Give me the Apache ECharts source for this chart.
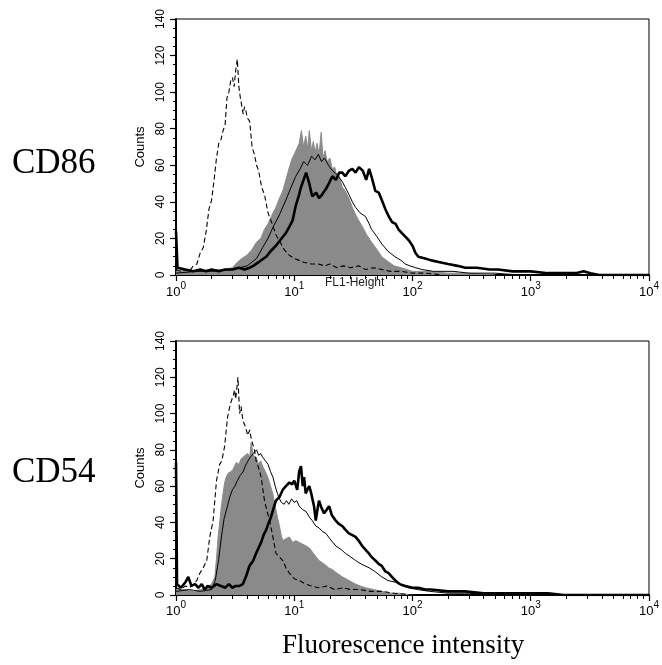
<!DOCTYPE html>
<html><head><meta charset="utf-8">
<script src="https://cdn.jsdelivr.net/npm/echarts@6/dist/echarts.min.js"></script>
<style>html,body{margin:0;padding:0;background:#fff}#c{width:662px;height:665px}</style>
</head><body><div id="c"></div>
<script>
// ---- labels & ticks ----
const panelNames = ['CD86', 'CD54'];
const xMajorTicks = [1, 10, 100, 1000, 10000];
const xMinorTicks = [2,3,4,5,6,7,8,9,20,30,40,50,60,70,80,90,200,300,400,500,600,700,800,900,2000,3000,4000,5000,6000,7000,8000,9000];
const yTicks = [0, 20, 40, 60, 80, 100, 120, 140];
const yTitle = 'Counts';
const topAxisTitle = 'FL1-Height';
const xTitle = 'Fluorescence intensity';

// ---- CD86 panel: [intensity, counts] ----
const cd86Isotype = [[1,3],[1.1,2],[1.2,3],[1.3,2],[1.4,5],[1.5,6],[1.6,12],[1.7,15],[1.8,24],[1.9,36],[2.0,41],[2.1,52],[2.2,64],[2.3,72],[2.4,74],[2.5,79],[2.6,82],[2.7,97],[2.8,100],[2.9,106],[3.0,108],[3.1,103],[3.2,112],[3.3,118],[3.4,103],[3.5,97],[3.6,96],[3.7,88],[3.8,92],[3.9,90],[4.0,86],[4.2,84],[4.4,70],[4.6,66],[4.8,60],[5.0,57],[5.3,48],[5.6,44],[6.0,34],[6.5,28],[7.0,22],[7.6,18],[8.2,14],[9.0,11],[10,9],[11,8],[12,7],[14,6],[16,6],[18,5],[20,6],[23,4],[26,5],[30,4],[35,5],[40,3],[47,4],[55,3],[65,2],[80,2],[100,1],[130,1],[180,0]];
const cd86Filled = [[1,2],[1.2,3],[1.5,2],[2,3],[2.5,3],[3,4],[3.3,7],[3.6,9],[4.0,11],[4.4,14],[4.8,18],[5.2,20],[5.6,25],[6.0,28],[6.5,33],[7.0,37],[7.5,42],[8.0,46],[8.5,52],[9.0,58],[9.5,63],[10,66],[10.5,69],[11,72],[11.5,79],[12,70],[12.5,76],[13,69],[13.4,79],[14,68],[14.5,73],[15,67],[15.6,72],[16.2,66],[16.9,78],[17.5,64],[18.2,68],[19,62],[20,64],[21,58],[22,59],[23,53],[24,54],[25.5,48],[27,46],[29,42],[31,37],[33,33],[35,30],[38,26],[41,22],[45,18],[50,14],[55,10],[60,8],[70,5],[80,4],[100,2],[130,2],[200,1],[300,1],[500,0]];
const cd86Thin = [[1,1],[1.5,2],[2,2],[3,3],[4,5],[4.8,9],[5.4,15],[6,20],[6.6,26],[7.5,33],[8.5,41],[9.4,48],[10.3,54],[11.2,58],[12,62],[13,60],[14,65],[15,63],[16,66],[17,62],[18,64],[19.5,60],[21,57],[23,55],[25.5,51],[27,48],[29,44],[31,40],[33,37],[36,34],[40,32],[43,28],[45,25],[50,21],[55,17],[62,13],[71,10],[80,8],[87,6],[95,5],[106,4],[120,3],[150,2],[220,2],[300,1],[500,1],[800,0]];
const cd86Thick = [[1,24],[1.03,4],[1.2,3],[1.4,2],[1.6,3],[1.8,2],[2,3],[2.3,2],[2.6,3],[3,3],[3.4,4],[3.8,3],[4.2,4],[4.5,5],[5,7],[5.5,9],[5.8,10],[6.3,13],[7,16],[7.6,19],[8.5,23],[9.2,27],[9.7,30],[10.3,38],[11,44],[11.4,48],[12,52],[12.6,56],[13.4,50],[14.2,43],[15.3,45],[16.2,42],[17.2,44],[18.5,47],[19.6,50],[21,54],[22.5,52],[24,56],[25.5,56],[27,54],[29,57],[31,58],[33,56],[35.2,59],[38,57],[40.6,52],[43,58],[45.4,53],[48.5,46],[51.9,45],[55,41],[59,36],[63,32],[67,29],[72,28],[76,25],[81,23],[87,21],[93,19],[100,16],[106,12],[112,10],[128,9],[144,8],[170,7],[200,6],[240,5],[280,4],[350,4],[450,3],[530,3],[700,2],[1000,2],[1400,1],[1900,1],[2400,1],[2800,2],[3200,1],[3800,0],[10000,0]];

// ---- CD54 panel ----
const cd54Isotype = [[1,4],[1.1,3],[1.2,5],[1.3,4],[1.4,6],[1.5,8],[1.59,12],[1.7,15],[1.82,19],[1.93,32],[2.06,41],[2.2,63],[2.34,72],[2.44,74],[2.58,82],[2.65,90],[2.73,98],[2.85,104],[2.94,107],[3.05,110],[3.13,113],[3.2,108],[3.34,120],[3.45,100],[3.55,104],[3.68,96],[3.8,94],[3.93,91],[4.05,88],[4.2,91],[4.33,86],[4.46,85],[4.6,80],[4.76,74],[5.0,70],[5.25,65],[5.6,52],[5.9,46],[6.2,41],[6.6,32],[7.0,23],[7.5,21],[8.0,19],[8.5,15],[9.1,12],[10,9],[11,8],[12.5,6],[14,5],[16,4],[19,5],[22,3],[26,4],[30,3],[36,3],[44,2],[55,2],[70,1],[100,0]];
const cd54Filled = [[1,3],[1.2,3],[1.4,2],[1.6,3],[1.8,4],[2.0,6],[2.13,10],[2.2,20],[2.27,32],[2.35,41],[2.42,49],[2.5,56],[2.58,62],[2.66,65],[2.75,67],[2.9,68],[3.03,69],[3.13,71],[3.23,73],[3.4,72],[3.55,75],[3.68,74],[3.85,77],[4.05,78],[4.2,76],[4.32,84],[4.5,77],[4.76,76],[5.0,72],[5.2,74],[5.4,71],[5.7,68],[5.97,65],[6.3,60],[6.58,56],[6.8,51],[7.0,47],[7.25,42],[7.5,38],[7.75,33],[8.0,30],[8.5,31],[9.1,32],[9.7,29],[10.3,30],[11,29],[11.8,28],[12.6,27],[13.4,26],[14.5,23],[15.3,21],[16.2,19],[18,17],[19.5,15],[21,14],[23,12],[25.5,10],[29,8],[33,6],[36,5],[40,4],[47,3],[55,2],[65,1],[76,1],[100,0]];
const cd54Thin = [[1,2],[1.3,3],[1.6,2],[2.0,3],[2.15,8],[2.3,20],[2.42,32],[2.55,42],[2.7,48],[2.85,54],[3.0,58],[3.15,60],[3.3,63],[3.5,66],[3.7,68],[3.85,71],[4.0,72],[4.15,75],[4.3,76],[4.5,78],[4.8,80],[5.0,77],[5.2,78],[5.4,76],[5.7,74],[6.0,72],[6.3,68],[6.6,65],[6.9,60],[7.2,56],[7.5,53],[7.8,51],[8.2,50],[8.6,52],[9.0,50],[9.5,53],[10,51],[10.5,52],[11,49],[11.8,47],[12.6,46],[13.4,43],[14.2,41],[15.2,38],[16.2,37],[17.3,35],[18.5,34],[20,31],[22.5,27],[25,25],[27,23],[30,21],[33,19],[37,17],[43,15],[48,13],[55,10],[62,8],[72,7],[82,5],[92,4],[110,3],[140,2],[200,1],[300,1],[450,0]];
const cd54Thick = [[1,73],[1.02,6],[1.1,4],[1.2,7],[1.27,10],[1.35,5],[1.45,6],[1.55,4],[1.65,6],[1.75,3],[1.85,5],[2.0,4],[2.2,6],[2.4,5],[2.6,4],[2.8,6],[3.0,4],[3.2,5],[3.45,5],[3.68,6],[3.9,10],[4.18,16],[4.5,19],[4.76,23],[5.0,26],[5.25,29],[5.5,33],[5.8,36],[6.1,40],[6.36,43],[6.7,48],[7.0,52],[7.5,54],[8.0,58],[8.5,60],[9.1,62],[9.6,61],[10,63],[10.6,58],[11.0,68],[11.4,71],[11.8,60],[12.1,65],[12.5,56],[12.9,58],[13.4,60],[13.8,57],[14.2,56],[14.7,49],[15.2,41],[15.7,47],[16.2,52],[17,48],[17.9,45],[18.8,47],[19.7,49],[20.8,44],[22.4,41],[24,39],[25.5,38],[27,36],[29,34],[31,33],[33,32],[35,30],[37.6,27],[40,25],[42.7,23],[45,21],[48.5,19],[52,17],[55,16],[59,13],[62.8,12],[67,10],[71.5,8],[78,6],[87,5],[100,4],[112,4],[128,3],[144,3],[200,2],[278,2],[400,1],[530,1],[700,1],[1000,1],[1400,1],[1900,0],[10000,0]];

const panels = [
  {filled: cd86Filled, iso: cd86Isotype, thin: cd86Thin, thick: cd86Thick},
  {filled: cd54Filled, iso: cd54Isotype, thin: cd54Thin, thick: cd54Thick}
];

const sansFont = '"Liberation Sans", Arial, sans-serif';
const serifFont = '"Liberation Serif", "Times New Roman", serif';
const grids = [
  {left: 176, right: 11, top: 19, height: 256},
  {left: 176, right: 11, top: 341, height: 254}
];
const labelMargins = [6, 5];

const chart = echarts.init(document.getElementById('c'), null, {renderer: 'canvas'});

function supLabel(v) {
  const e = Math.round(Math.log10(v));
  return '{b|10}{s|' + e + '}';
}

const xAxes = [], yAxes = [], series = [];
grids.forEach((g, i) => {
  xAxes.push({
    gridIndex: i, type: 'log', logBase: 10, min: 1, max: 10000, position: 'bottom',
    axisLine: {show: true, lineStyle: {color: '#000', width: 2}},
    axisTick: {show: true, length: 6, customValues: xMajorTicks, lineStyle: {color: '#000', width: 1.2}},
    axisLabel: {
      show: true, margin: labelMargins[i], customValues: xMajorTicks,
      formatter: supLabel,
      rich: {
        b: {fontSize: 13, fontFamily: sansFont, color: '#000', lineHeight: 18, verticalAlign: 'bottom'},
        s: {fontSize: 10, fontFamily: sansFont, color: '#000', lineHeight: 9, verticalAlign: 'top'}
      }
    },
    splitLine: {show: false}
  });
  xAxes.push({
    gridIndex: i, type: 'log', logBase: 10, min: 1, max: 10000, position: 'bottom',
    axisLine: {show: false},
    axisTick: {show: true, length: 4, customValues: xMinorTicks, lineStyle: {color: '#000', width: 1}},
    axisLabel: {show: false},
    splitLine: {show: false}
  });
  yAxes.push({
    gridIndex: i, type: 'value', min: 0, max: 140, interval: 20,
    name: yTitle, nameLocation: 'middle', nameGap: 29, nameRotate: 90,
    nameTextStyle: {fontSize: 13, fontFamily: sansFont, color: '#000'},
    axisLine: {show: true, lineStyle: {color: '#000', width: 2}},
    axisTick: {show: true, length: 6, lineStyle: {color: '#000', width: 1.2}},
    minorTick: {show: true, splitNumber: 4, length: 3, lineStyle: {color: '#000', width: 1}},
    axisLabel: {rotate: 90, margin: 9, fontSize: 12, fontFamily: sansFont, color: '#000', customValues: yTicks},
    splitLine: {show: false}
  });
  const p = panels[i];
  const xi = i * 2;
  series.push({
    type: 'line', xAxisIndex: xi, yAxisIndex: i, data: p.filled, showSymbol: false,
    lineStyle: {color: '#8a8a8a', width: 1}, areaStyle: {color: '#8a8a8a', opacity: 1}, z: 2
  });
  series.push({
    type: 'line', xAxisIndex: xi, yAxisIndex: i, data: p.iso, showSymbol: false,
    lineStyle: {color: '#000', width: 1.1, type: [5, 3]}, z: 3
  });
  series.push({
    type: 'line', xAxisIndex: xi, yAxisIndex: i, data: p.thin, showSymbol: false,
    lineStyle: {color: '#000', width: 1}, z: 4
  });
  series.push({
    type: 'line', xAxisIndex: xi, yAxisIndex: i, data: p.thick, showSymbol: false,
    lineStyle: {color: '#000', width: 2.6}, z: 5
  });
});

chart.setOption({
  animation: false,
  backgroundColor: '#fff',
  grid: grids.map(g => Object.assign({show: true, borderColor: '#000', borderWidth: 1, backgroundColor: 'transparent'}, g)),
  xAxis: xAxes,
  yAxis: yAxes,
  series: series,
  graphic: [
    {type: 'text', left: 12, top: 146, style: {text: panelNames[0], font: '35px ' + serifFont, fill: '#000'}},
    {type: 'text', left: 12, top: 455, style: {text: panelNames[1], font: '35px ' + serifFont, fill: '#000'}},
    {type: 'text', left: 325, top: 277, style: {text: topAxisTitle, font: '12px ' + sansFont, fill: '#222'}},
    {type: 'text', left: 282, top: 632, style: {text: xTitle, font: '27px ' + serifFont, fill: '#000'}}
  ]
});
</script></body></html>
